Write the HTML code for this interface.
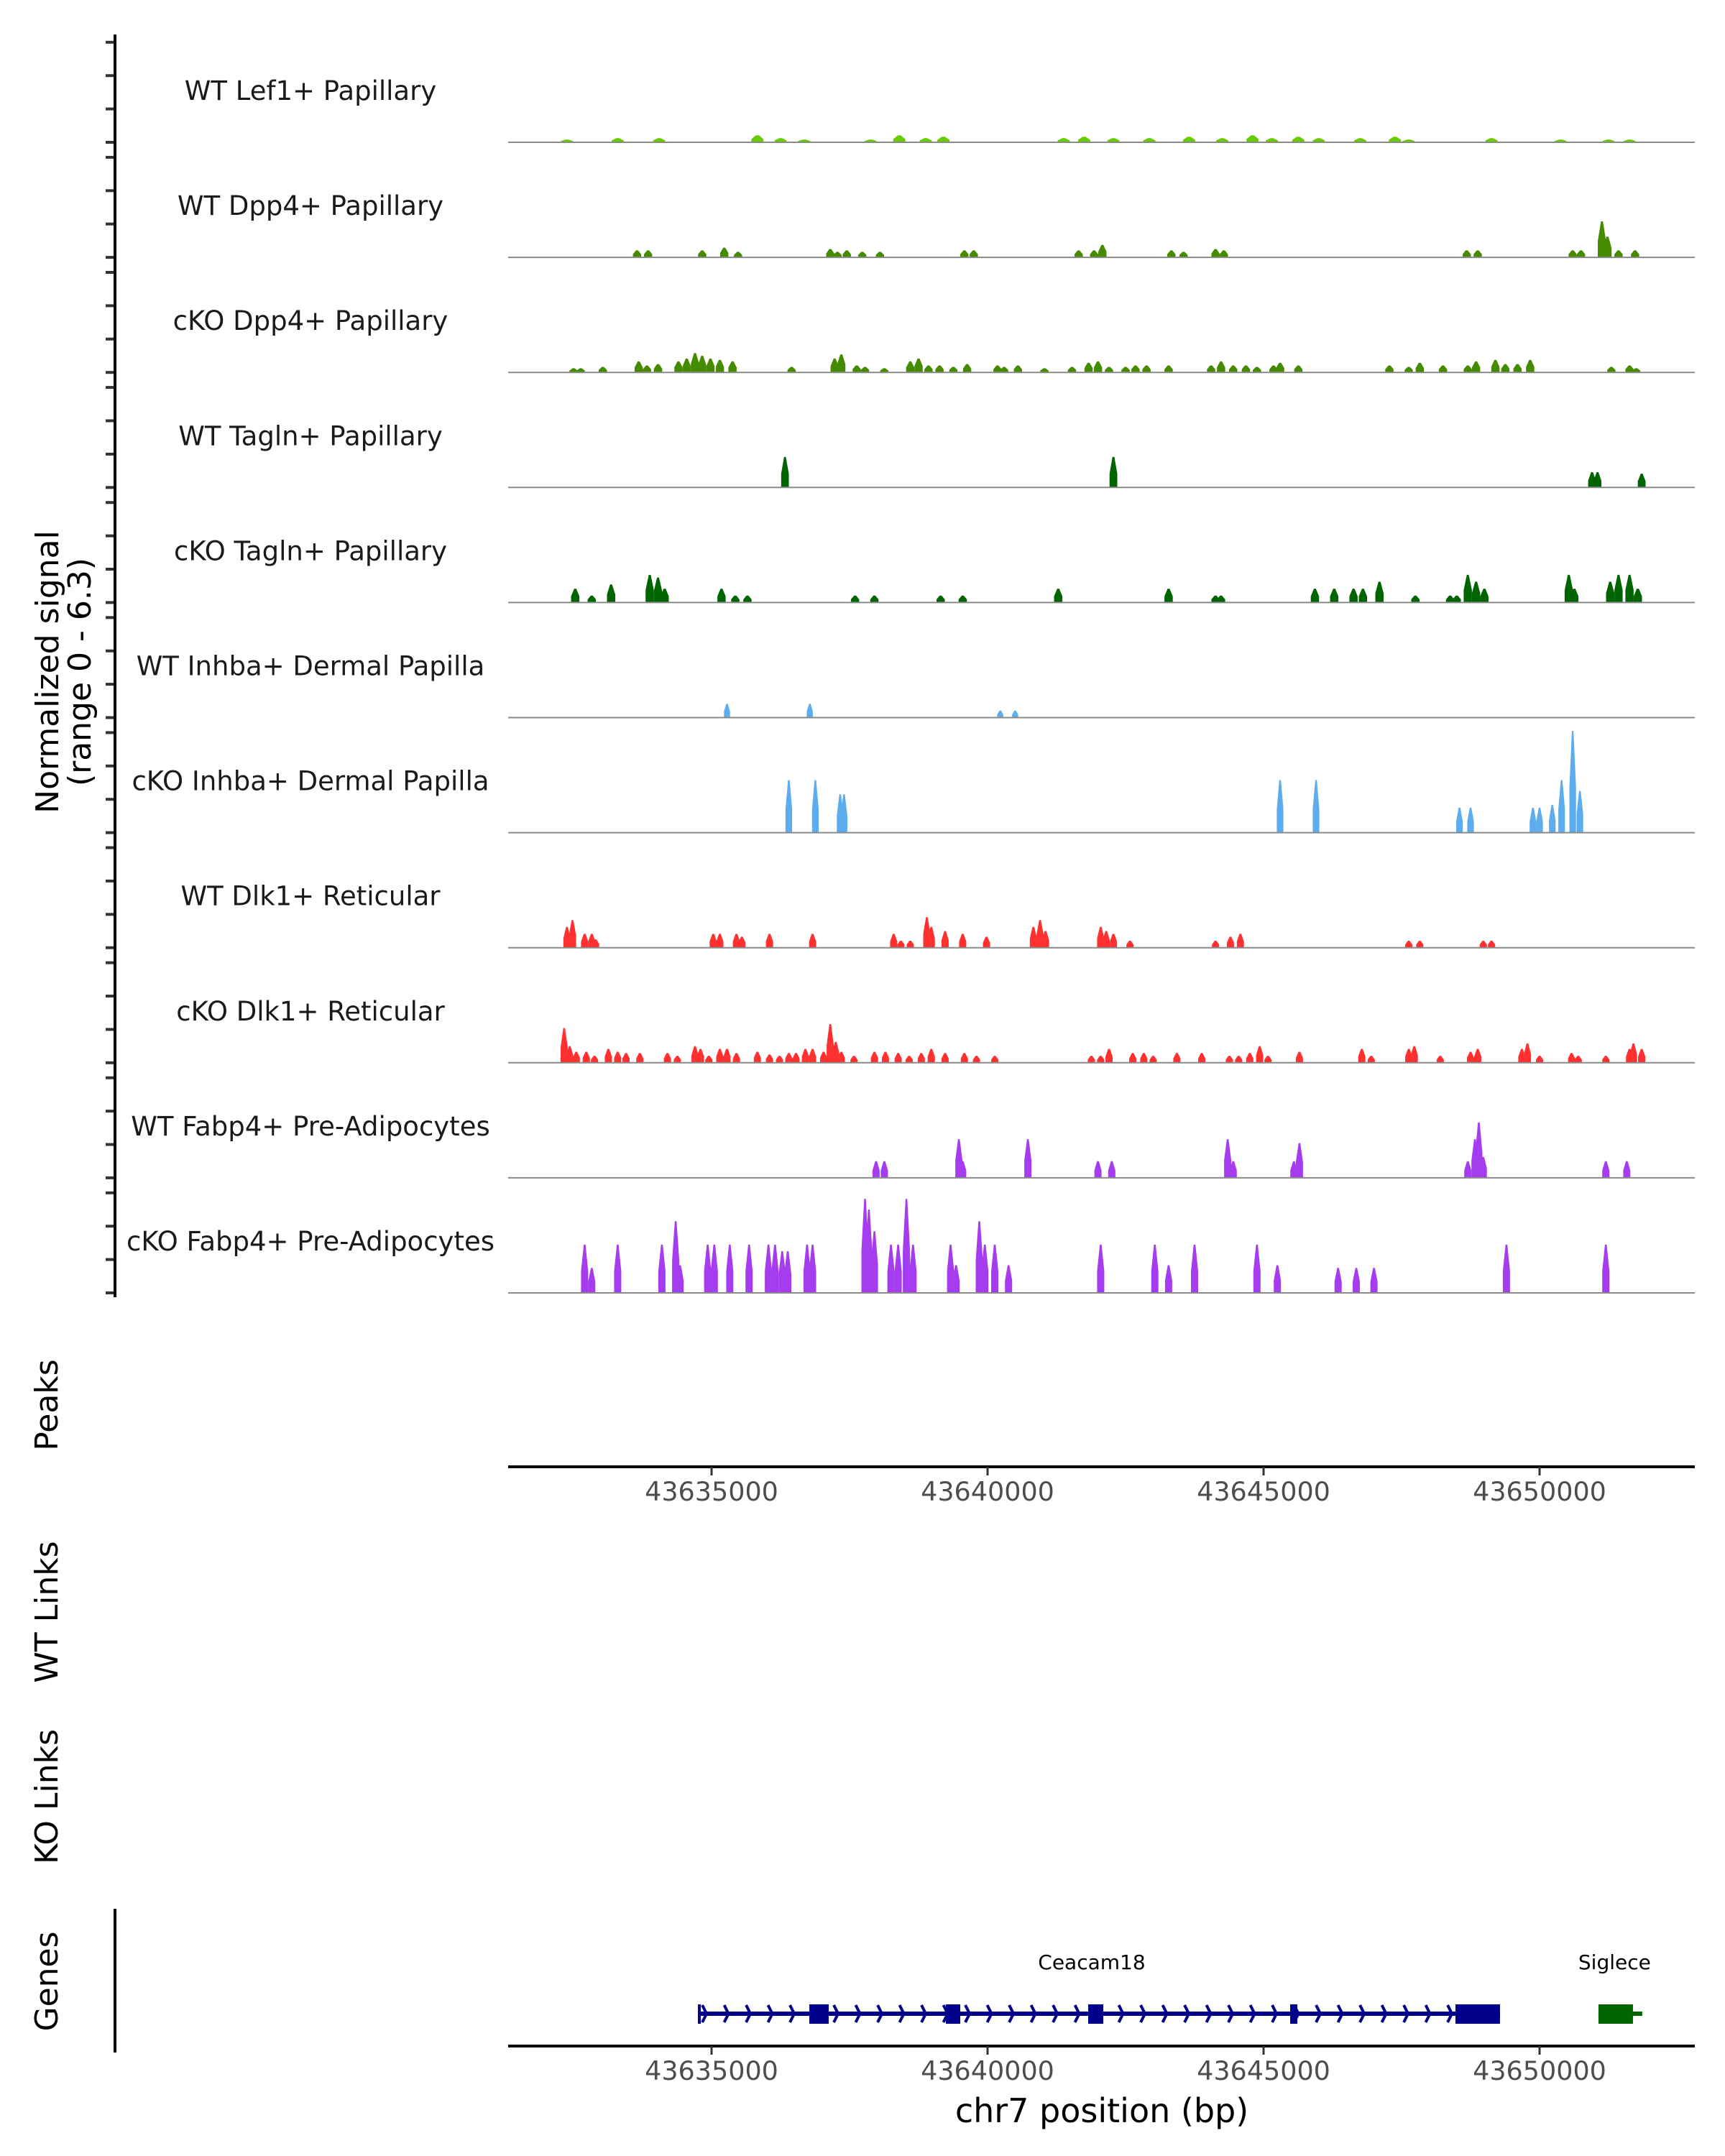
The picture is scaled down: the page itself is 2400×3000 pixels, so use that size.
<!DOCTYPE html>
<html><head><meta charset="utf-8">
<style>
html,body{margin:0;padding:0;background:#fff;}
svg{display:block;font-family:"DejaVu Sans","Liberation Sans",sans-serif;}
</style></head>
<body>
<svg id="chart" width="2400" height="3000" viewBox="0 0 2400 3000" xmlns="http://www.w3.org/2000/svg">
<g id="tracks"></g>
<g id="axes"></g>
<g id="genes"></g>
</svg>
<script>
// ---- data ----
const trackNames = ["WT Lef1+ Papillary","WT Dpp4+ Papillary","cKO Dpp4+ Papillary","WT Tagln+ Papillary","cKO Tagln+ Papillary","WT Inhba+ Dermal Papilla","cKO Inhba+ Dermal Papilla","WT Dlk1+ Reticular","cKO Dlk1+ Reticular","WT Fabp4+ Pre-Adipocytes","cKO Fabp4+ Pre-Adipocytes"];
const trackColors = ["#66CC00","#458B00","#458B00","#006400","#006400","#5CACEE","#5CACEE","#FF3030","#FF3030","#A63CF0","#A63CF0"];
// peak positions: kb offset from 43630000
const pos0 = [2.38,3.30,4.05,5.83,6.25,6.68,7.88,8.40,8.88,9.20,11.38,11.75,12.28,12.93,13.65,14.25,14.80,15.15,15.63,16.00,16.75,17.38,17.63,19.13,20.38,21.25,21.63];
const val0 = [0.17,0.25,0.25,0.42,0.25,0.17,0.17,0.42,0.25,0.33,0.25,0.33,0.25,0.25,0.33,0.25,0.42,0.25,0.33,0.25,0.25,0.33,0.17,0.25,0.17,0.17,0.17];
const pos1 = [3.65,3.85,4.83,5.23,5.48,7.15,7.28,7.45,7.73,8.05,9.58,9.75,11.65,11.93,12.08,13.33,13.55,14.13,14.28,18.68,18.88,20.60,20.75,21.13,21.23,21.43,21.73];
const val1 = [0.42,0.42,0.42,0.58,0.33,0.5,0.33,0.42,0.33,0.33,0.42,0.42,0.42,0.42,0.75,0.42,0.33,0.5,0.42,0.42,0.42,0.42,0.42,2.16,1.25,0.42,0.42];
const pos2 = [2.50,2.63,3.03,3.68,3.83,4.03,4.40,4.55,4.70,4.83,4.98,5.15,5.38,6.45,7.23,7.35,7.63,7.78,8.13,8.60,8.75,8.93,9.13,9.38,9.63,10.18,10.30,10.55,11.03,11.53,11.83,12.00,12.20,12.50,12.68,12.88,13.28,14.05,14.23,14.45,14.68,14.88,15.18,15.30,15.63,17.28,17.63,17.83,18.25,18.70,18.85,19.20,19.38,19.60,19.83,21.30,21.63,21.75];
const val2 = [.25,.25,.33,.66,.42,.5,.66,.83,1.16,1.0,.83,.75,.66,.33,.83,1.08,.42,.33,.25,.66,.83,.42,.42,.33,.5,.42,.33,.42,.25,.33,.58,.66,.33,.33,.42,.42,.42,.42,.66,.42,.42,.33,.42,.58,.42,.42,.33,.58,.42,.42,.66,.75,.5,.5,.75,.33,.42,.25];
const pos3 = [6.33,12.28,20.95,21.05,21.85];
const val3 = [1.83,1.83,0.92,0.92,0.83];
const pos4 = [2.53,2.83,3.18,3.88,4.03,4.15,5.18,5.43,5.65,7.60,7.95,9.15,9.55,11.28,13.28,14.13,14.23,15.93,16.28,16.63,16.80,17.10,17.75,18.38,18.50,18.70,18.85,19.00,20.53,20.63,21.28,21.43,21.63,21.78];
const val4 = [.83,.42,1.08,1.66,1.5,.83,.83,.42,.42,.42,.42,.42,.42,.83,.83,.42,.42,.83,.83,.83,.83,1.25,.42,.42,.42,1.66,1.25,.83,1.66,.83,1.25,1.66,1.66,.83];
const pos5 = [5.28,6.78,10.23,10.50];
const val5 = [.83,.83,.42,.42];
const pos6 = [6.40,6.88,7.33,7.40,15.30,15.95,18.55,18.75,19.88,20.00,20.23,20.40,20.60,20.73];
const val6 = [3.15,3.15,2.3,2.3,3.15,3.15,1.5,1.5,1.5,1.5,1.66,3.15,6.1,2.5];
const pos7 = [2.38,2.48,2.70,2.83,2.90,5.03,5.15,5.45,5.55,6.05,6.83,8.30,8.43,8.60,8.90,8.98,9.23,9.55,9.98,10.83,10.95,11.05,12.05,12.15,12.28,12.58,14.13,14.40,14.58,17.63,17.83,18.98,19.13];
const val7 = [1.25,1.66,.83,.83,.5,.83,.83,.83,.66,.83,.83,.83,.42,.42,1.83,1.25,1.0,.83,.66,1.25,1.66,1.0,1.25,1.0,.83,.42,.42,.66,.83,.42,.42,.42,.42];
const pos8 = [2.33,2.43,2.55,2.73,2.88,3.13,3.30,3.45,3.70,4.20,4.38,4.70,4.80,4.95,5.15,5.28,5.45,5.83,6.05,6.23,6.40,6.53,6.70,6.83,7.03,7.15,7.25,7.35,7.58,7.95,8.15,8.38,8.58,8.80,8.98,9.23,9.58,9.80,10.13,11.88,12.05,12.20,12.63,12.83,13.00,13.43,13.88,14.38,14.55,14.75,14.93,15.08,15.65,16.78,16.95,17.63,17.73,18.20,18.75,18.88,19.68,19.78,20.00,20.58,20.70,21.20,21.63,21.70,21.85];
const val8 = [2.08,1.0,.66,.66,.42,.83,.66,.58,.58,.58,.42,1.0,.83,.42,.83,.83,.58,.66,.5,.42,.58,.58,.83,.83,.66,2.32,1.25,.66,.42,.66,.66,.58,.42,.58,.83,.58,.58,.42,.42,.42,.42,.83,.58,.58,.42,.58,.58,.42,.42,.58,1.0,.42,.66,.83,.42,.83,1.0,.42,.66,.83,.83,1.16,.42,.58,.42,.42,.83,1.16,.83];
const pos9 = [7.98,8.13,9.48,9.55,10.73,12.00,12.25,14.35,14.45,15.55,15.65,18.70,18.83,18.90,18.98,21.20,21.58];
const val9 = [1.0,1.0,2.32,1.0,2.32,1.0,1.0,2.32,1.0,1.0,2.08,1.0,2.32,3.32,1.25,1.0,1.0];
const pos10 = [2.70,2.83,3.30,4.10,4.35,4.43,4.93,5.05,5.33,5.68,6.03,6.15,6.28,6.38,6.73,6.83,7.78,7.85,7.95,8.25,8.38,8.53,8.65,9.33,9.43,9.85,9.95,10.13,10.38,12.05,13.03,13.28,13.75,14.88,15.25,16.35,16.68,17.00,19.40,21.20];
const val10 = [2.9,1.5,2.9,2.9,4.3,1.66,2.9,2.9,2.9,2.9,2.9,2.9,2.5,2.5,2.9,2.9,5.64,5.0,3.7,2.9,2.9,5.64,2.9,2.9,1.66,4.3,2.9,2.9,1.66,2.9,2.9,1.66,2.9,2.9,1.66,1.5,1.5,1.5,2.9,2.9];
const allPos = [pos0,pos1,pos2,pos3,pos4,pos5,pos6,pos7,pos8,pos9,pos10];
const allVal = [val0,val1,val2,val3,val4,val5,val6,val7,val8,val9,val10];
const peakHalfWidthBp = [110,75,75,70,75,55,60,65,65,65,65];
const xTicks = [43635000,43640000,43645000,43650000];
const xTickLabels = ["43635000","43640000","43645000","43650000"];
const signalTicks = [0,2,4,6];
const geneNames = ["Ceacam18","Siglece"];
const geneStarts = [43634753,43651067];
const geneEnds = [43649283,43651860];
const geneColors = ["#00008B","#006400"];
const exonStarts0 = [43634753,43636771,43639245,43641823,43645482,43648476];
const exonEnds0 = [43634790,43637122,43639505,43642096,43645612,43649283];
const exonStarts1 = [43651067];
const exonEnds1 = [43651692];

// ---- scales ----
const NS = "http://www.w3.org/2000/svg";
const X0 = 707, X1 = 2358;
function xScale(bp){ return 990 + (bp - 43635000) * 384 / 5000; }
const baseY0 = 198, trackStep = 160.1, pxPerUnit = 23.2;
function yScale(track, v){ return baseY0 + track*trackStep - v*pxPerUnit; }
function mk(tag, attrs, parent){ const e=document.createElementNS(NS,tag); for(const k in attrs) e.setAttribute(k,attrs[k]); parent.appendChild(e); return e; }

const gT = document.getElementById('tracks');
const gA = document.getElementById('axes');
const gG = document.getElementById('genes');

for(let t=0;t<trackNames.length;t++){
  const base = yScale(t,0);
  const lab = mk('text',{x:432,y:base-59,'text-anchor':'middle','font-size':37,fill:'#1a1a1a'},gT);
  
  
  lab.textContent = trackNames[t];
  const P = allPos[t], V = allVal[t], hw = peakHalfWidthBp[t];
  const n = Math.min(P.length,V.length);
  for(let i=0;i<n;i++){
    const c = 43630000 + P[i]*1000;
    const h = yScale(t,V[i]);
    const sh = yScale(t,V[i]*0.45);
    const xl = xScale(c-hw), xr = xScale(c+hw), xc = xScale(c);
    const w = xr-xl;
    const pts = [[xl,base],[xl,sh],[xc-w*0.12,h],[xc+w*0.12,h],[xr,sh],[xr,base]].map(p=>p[0].toFixed(1)+','+p[1].toFixed(1)).join(' ');
    const pk = mk('polygon',{points:pts,fill:trackColors[t]},gT);
    
    
  }
  const bl = mk('line',{x1:X0,x2:X1,y1:base,y2:base,stroke:'#8a8a8a','stroke-width':2},gT);
  
  
  for(const s of signalTicks){
    const ty = yScale(t,s);
    const tk = mk('line',{x1:147,x2:160,y1:ty,y2:ty,stroke:'#333','stroke-width':4},gA);
    
    
  }
}
// left axis
const ya = mk('line',{x1:160,x2:160,y1:48,y2:1805,stroke:'#000','stroke-width':4},gA);


// titles
function vtitle(txt,x,y,name,size){
  const e = mk('text',{x:x,y:y,'text-anchor':'middle','font-size':size||44,fill:'#000',transform:`rotate(-90 ${x} ${y})`},gA);
  
  
  e.textContent = txt;
}
vtitle('Normalized signal',81,935,'y-axis-title');
vtitle('(range 0 - 6.3)',126,935,'y-axis-subtitle');
vtitle('Peaks',80,1955,'peaks-title');
vtitle('WT Links',80,2243,'wt-links-title');
vtitle('KO Links',80,2500,'ko-links-title');
vtitle('Genes',80,2757,'genes-title');

function xaxis(y,name){
  const l = mk('line',{x1:X0,x2:X1,y1:y,y2:y,stroke:'#000','stroke-width':4},gA);
  
  
  for(let i=0;i<xTicks.length;i++){
    const x = xScale(xTicks[i]);
    const tk = mk('line',{x1:x,x2:x,y1:y,y2:y+12,stroke:'#333','stroke-width':3},gA);
    
    
    const tl = mk('text',{x:x,y:y+47,'text-anchor':'middle','font-size':36.5,fill:'#4d4d4d'},gA);
    
    
    tl.textContent = xTickLabels[i];
  }
}
xaxis(2041,'peaks-x-axis');
xaxis(2847,'genes-x-axis');
const xt = mk('text',{x:1533,y:2953,'text-anchor':'middle','font-size':46,fill:'#000'},gA);


xt.textContent = 'chr7 position (bp)';
const ga = mk('line',{x1:160,x2:160,y1:2656,y2:2856,stroke:'#000','stroke-width':4},gA);



// genes
const gy = 2802;
const exS = [exonStarts0,exonStarts1], exE = [exonEnds0,exonEnds1];
for(let g=0;g<geneNames.length;g++){
  const xs = xScale(geneStarts[g]), xe = xScale(geneEnds[g]);
  const ln = mk('line',{x1:xs,x2:xe,y1:gy,y2:gy,stroke:geneColors[g],'stroke-width':6},gG);
  
  
  if(g===0){
    for(let x=xs+6;x<xe-10;x+=30.5){
      const ch = mk('polyline',{points:`${x},${gy-12} ${x+6},${gy} ${x},${gy+12}`,fill:'none',stroke:geneColors[g],'stroke-width':4},gG);
      
      
    }
  }
  for(let i=0;i<exS[g].length;i++){
    const a = xScale(exS[g][i]), b = xScale(exE[g][i]);
    const ex = mk('rect',{x:a,y:gy-13,width:Math.max(b-a,4),height:27,fill:geneColors[g]},gG);
    
    
  }
  const lb = mk('text',{x:(xs+xe)/2 + (g===0?-10:-8),y:2740,'text-anchor':'middle','font-size':28,fill:'#000'},gG);
  
  
  lb.textContent = geneNames[g];
}
</script>
</body></html>
